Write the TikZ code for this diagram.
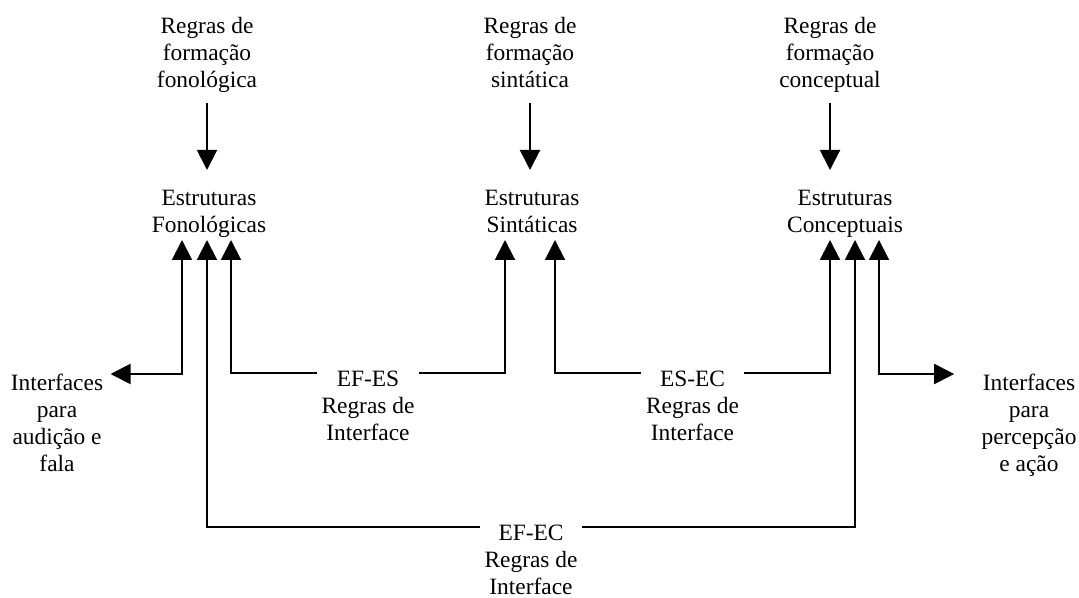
\documentclass[tikz,border=0pt]{standalone}
\usepackage{fontspec}
\setmainfont{Liberation Serif}
\usetikzlibrary{arrows.meta}

\tikzset{
  txt/.style = {align=center, inner sep=0pt, anchor=north, font=\fontsize{11.7}{13.5}\selectfont},
  lbl/.style = {txt, fill=white, inner xsep=2.5pt, inner ysep=1pt, yshift=2.5pt},
  arr/.style = {line width=1pt, -{Triangle[length=10pt,width=10pt]}},
  dbl/.style = {line width=1pt, {Triangle[length=10pt,width=10pt]}-{Triangle[length=10pt,width=10pt]}}
}

\begin{document}
\begin{tikzpicture}[x=0.5pt, y=-0.5pt]
\useasboundingbox (0,0) rectangle (1079,598);
% regras de formacao
\node[txt] (regfon) at (207,17) {Regras de\\formação\\fonológica};
\node[txt] (regsin) at (530,17) {Regras de\\formação\\sintática};
\node[txt] (regcon) at (830,17) {Regras de\\formação\\conceptual};
% estruturas
\node[txt] (estfon) at (209,190) {Estruturas\\Fonológicas};
\node[txt] (estsin) at (532,190) {Estruturas\\Sintáticas};
\node[txt] (estcon) at (845,190) {Estruturas\\Conceptuais};
% interfaces externas
\node[txt, inner xsep=3.5pt] (intaud) at (57,374) {Interfaces\\para\\audição e\\fala};
\node[txt] (intper) at (1029,374) {Interfaces\\para\\percepção\\e ação};
% pes das setas
\coordinate (fonL) at (182,240);
\coordinate (fonM) at (207,240);
\coordinate (fonR) at (231,240);
\coordinate (sinL) at (505,240);
\coordinate (sinR) at (555,240);
\coordinate (conL) at (830,240);
\coordinate (conM) at (855,240);
\coordinate (conR) at (879,240);

\foreach \r/\e in {regfon/estfon, regsin/estsin, regcon/estcon}
  \draw[arr, shorten >=10pt] ([yshift=-43pt]\r.north) -- (\r.north |- \e.north);

\draw[dbl] (fonL) |- (intaud.north east);
\draw[dbl] (conR) |- ([xshift=-13.5pt]intper.north west);
\draw[dbl] (fonR) -- ++(0,133) -| node[lbl, pos=0.25] (efes) {EF-ES\\Regras de\\Interface} (sinL);
\draw[dbl] (sinR) -- ++(0,133) -| node[lbl, pos=0.25] (esec) {ES-EC\\Regras de\\Interface} (conL);
\draw[dbl] (fonM) -- ++(0,287) -| node[lbl, pos=0.25] (efec) {EF-EC\\Regras de\\Interface} (conM);
\end{tikzpicture}
\end{document}
